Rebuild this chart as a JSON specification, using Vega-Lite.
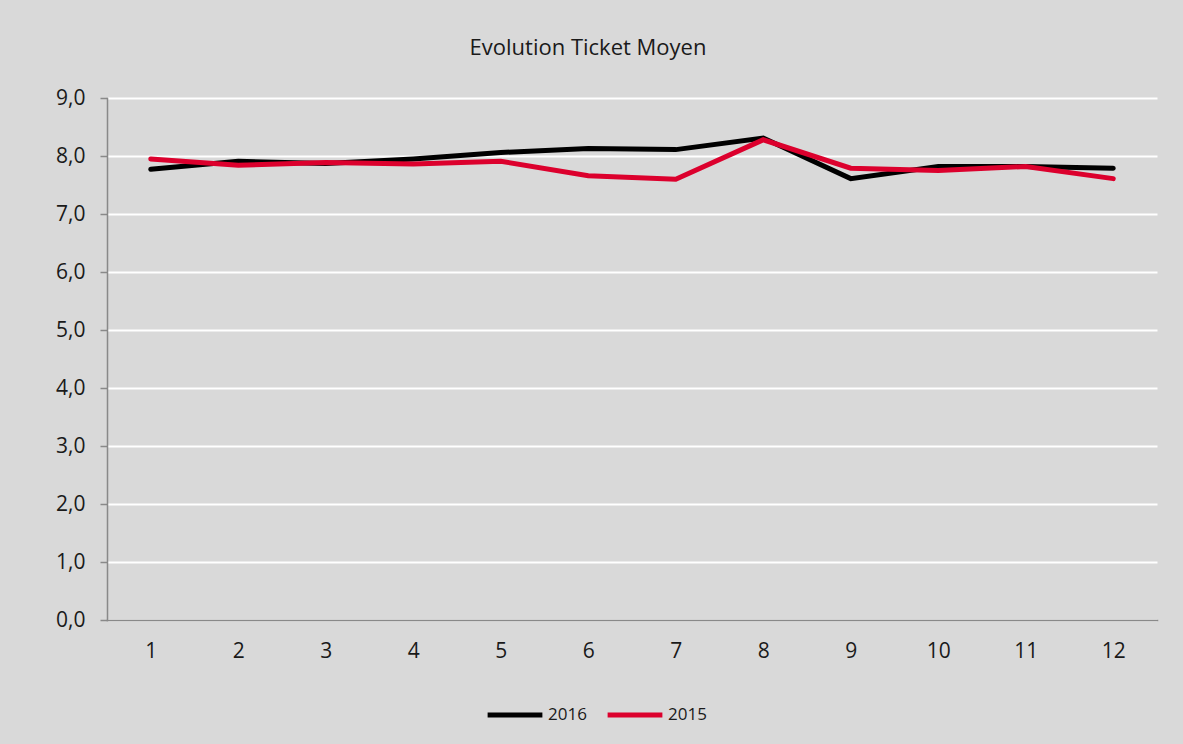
{
  "$schema": "https://vega.github.io/schema/vega-lite/v6.json",
  "autosize": {"type": "none"},
  "width": 1050,
  "height": 522,
  "padding": {"left": 107, "top": 98, "right": 26, "bottom": 124},
  "background": "#d9d9d9",
  "title": {
    "text": "Evolution Ticket Moyen",
    "fontSize": 22,
    "fontWeight": "normal",
    "font": "Open Sans",
    "color": "#1a1a1a",
    "anchor": "middle",
    "offset": 27,
    "dx": -44
  },
  "data": {
    "values": [
      {"mois": "1", "annee": "2016", "ticket": 7.77},
      {"mois": "2", "annee": "2016", "ticket": 7.91},
      {"mois": "3", "annee": "2016", "ticket": 7.87},
      {"mois": "4", "annee": "2016", "ticket": 7.95},
      {"mois": "5", "annee": "2016", "ticket": 8.06},
      {"mois": "6", "annee": "2016", "ticket": 8.13},
      {"mois": "7", "annee": "2016", "ticket": 8.11},
      {"mois": "8", "annee": "2016", "ticket": 8.31},
      {"mois": "9", "annee": "2016", "ticket": 7.61},
      {"mois": "10", "annee": "2016", "ticket": 7.82},
      {"mois": "11", "annee": "2016", "ticket": 7.82},
      {"mois": "12", "annee": "2016", "ticket": 7.79},
      {"mois": "1", "annee": "2015", "ticket": 7.95},
      {"mois": "2", "annee": "2015", "ticket": 7.84},
      {"mois": "3", "annee": "2015", "ticket": 7.89},
      {"mois": "4", "annee": "2015", "ticket": 7.86},
      {"mois": "5", "annee": "2015", "ticket": 7.91},
      {"mois": "6", "annee": "2015", "ticket": 7.66},
      {"mois": "7", "annee": "2015", "ticket": 7.60},
      {"mois": "8", "annee": "2015", "ticket": 8.28},
      {"mois": "9", "annee": "2015", "ticket": 7.79},
      {"mois": "10", "annee": "2015", "ticket": 7.75},
      {"mois": "11", "annee": "2015", "ticket": 7.82},
      {"mois": "12", "annee": "2015", "ticket": 7.61}
    ]
  },
  "mark": {"type": "line", "strokeWidth": 5, "strokeCap": "round", "strokeJoin": "miter"},
  "encoding": {
    "x": {
      "field": "mois",
      "type": "ordinal",
      "sort": ["1","2","3","4","5","6","7","8","9","10","11","12"],
      "scale": {"type": "point", "padding": 0.5},
      "axis": {
        "title": null,
        "labelAngle": 0,
        "ticks": false,
        "grid": false,
        "domainColor": "#898989",
        "domainWidth": 1.5,
        "labelFontSize": 21,
        "labelFont": "Open Sans",
        "labelColor": "#1a1a1a",
        "labelPadding": 20
      }
    },
    "y": {
      "field": "ticket",
      "type": "quantitative",
      "scale": {"domain": [0, 9], "nice": false, "zero": true},
      "axis": {
        "title": null,
        "values": [0,1,2,3,4,5,6,7,8,9],
        "labelExpr": "replace(format(datum.value, '.1f'), '.', ',')",
        "grid": true,
        "gridColor": "#ffffff",
        "gridWidth": 1.8,
        "domainColor": "#898989",
        "domainWidth": 1.5,
        "tickColor": "#898989",
        "tickWidth": 1.5,
        "tickSize": 7,
        "labelFontSize": 21,
        "labelFont": "Open Sans",
        "labelColor": "#1a1a1a",
        "labelPadding": 15
      }
    },
    "color": {
      "field": "annee",
      "type": "nominal",
      "scale": {"domain": ["2016", "2015"], "range": ["#000000", "#dc002d"]},
      "legend": {
        "title": null,
        "orient": "none",
        "direction": "horizontal",
        "legendX": 378,
        "legendY": 587,
        "symbolType": "stroke",
        "symbolSize": 3000,
        "symbolStrokeWidth": 5,
        "labelFontSize": 17,
        "labelFont": "Open Sans",
        "labelColor": "#1a1a1a",
        "labelOffset": 3,
        "columnPadding": 10
      }
    }
  },
  "config": {
    "view": {"stroke": null},
    "axis": {"domainCap": "square"}
  }
}
